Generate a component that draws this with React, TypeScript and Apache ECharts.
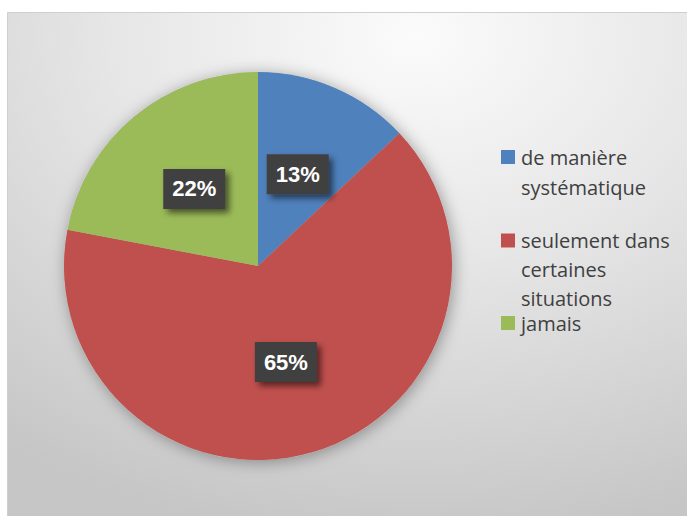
import React, { useEffect, useRef } from "react";
import * as echarts from "echarts";

const categories = ["de manière systématique", "seulement dans certaines situations", "jamais"];
const values = [13, 65, 22];
const colors = ["#4F81BD", "#C0504D", "#9BBB59"];
const legendLines = [["de manière", "systématique"], ["seulement dans", "certaines", "situations"], ["jamais"]];
const legendTops = [142, 226, 313];
const legendLineHeights = [30, 29, 20];

export default function App() {
  const ref = useRef<HTMLDivElement>(null);
  useEffect(() => {
    if (!ref.current) return;
    const chart = echarts.init(ref.current, undefined, { renderer: "svg" });
    const legends = categories.map((name, i) => {
      const lh = legendLineHeights[i];
      return {
        show: true,
        data: [name],
        left: 496,
        top: legendTops[i],
        orient: "vertical",
        padding: 0,
        icon: "none",
        itemWidth: 0,
        itemHeight: 0,
        selectedMode: false,
        formatter: () =>
          legendLines[i]
            .map((l, j) => (j === 0 ? "{sq|}{gap|}{t|" + l + "}" : "{ind|}{t|" + l + "}"))
            .join("\n"),
        textStyle: {
          fontFamily: "Open Sans",
          fontSize: 20,
          color: "#404040",
          lineHeight: lh,
          rich: {
            sq: { width: 14, height: 14, backgroundColor: colors[i], lineHeight: lh },
            gap: { width: 6, height: 14, lineHeight: lh },
            ind: { width: 20, height: 14, lineHeight: lh },
            t: { fontFamily: "Open Sans", fontSize: 20, color: "#404040", lineHeight: lh },
          },
        },
      };
    });
    chart.setOption({
      animation: false,
      graphic: [
        {
          type: "rect",
          z: -10,
          silent: true,
          shape: { x: 7.5, y: 12.5, width: 680, height: 504 },
          style: {
            fill: new echarts.graphic.RadialGradient(0.6, 0.05, 1.0, [
              { offset: 0, color: "#fbfbfb" },
              { offset: 0.45, color: "#e6e6e6" },
              { offset: 1, color: "#c6c6c6" },
            ]),
            stroke: "#cfcfcf",
            lineWidth: 1,
          },
        },
      ],
      legend: legends,
      series: [
        {
          type: "pie",
          silent: true,
          z: 1,
          center: [258, 266],
          radius: 194,
          label: { show: false },
          labelLine: { show: false },
          itemStyle: {
            color: "#bbbbbb",
            shadowBlur: 16,
            shadowColor: "rgba(0,0,0,0.35)",
            shadowOffsetX: 2,
            shadowOffsetY: 2,
          },
          data: [{ value: 1, name: "__shadow" }],
        },
        {
          type: "pie",
          z: 2,
          center: [258, 266],
          radius: 194,
          startAngle: 90,
          clockwise: true,
          data: categories.map((name, i) => ({ name, value: values[i], itemStyle: { color: colors[i] } })),
          label: {
            show: true,
            position: "inside",
            formatter: (p: any) => Math.round(p.percent) + "%",
            color: "#ffffff",
            fontFamily: "Liberation Sans",
            fontWeight: "bold",
            fontSize: 22,
            lineHeight: 22,
            backgroundColor: "#404040",
            padding: [9, 9, 9, 9],
            shadowBlur: 6,
            shadowOffsetX: 4,
            shadowOffsetY: 4,
            shadowColor: "rgba(0,0,0,0.55)",
          },
          labelLine: { show: false },
          itemStyle: { borderWidth: 0 },
          emphasis: { disabled: true },
        },
      ],
    });
    return () => chart.dispose();
  }, []);
  return (
    <div
      ref={ref}
      style={{ position: "absolute", left: 0, top: 0, width: 687, height: 516, background: "#ffffff" }}
    />
  );
}
